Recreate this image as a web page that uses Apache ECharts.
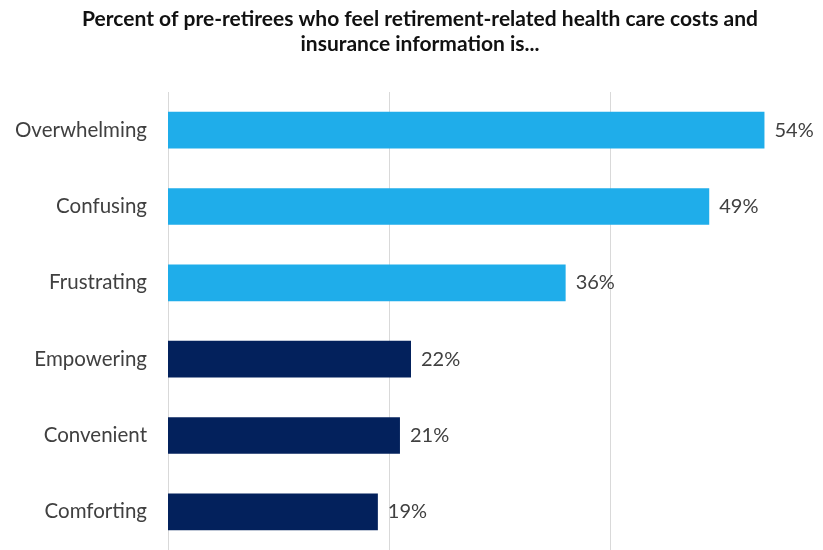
<!DOCTYPE html>
<html>
<head>
<meta charset="utf-8">
<script src="https://cdn.jsdelivr.net/npm/echarts@6/dist/echarts.min.js"></script>
<style>
html,body{margin:0;padding:0;background:#fff;}
#chart{width:823px;height:550px;}
</style>
</head>
<body>
<div id="chart"></div>
<script>
const titleText = 'Percent of pre-retirees who feel retirement-related health care costs and\ninsurance information is...';
const categories = ['Overwhelming', 'Confusing', 'Frustrating', 'Empowering', 'Convenient', 'Comforting'];
const values = [54, 49, 36, 22, 21, 19];
const groups = ['negative', 'negative', 'negative', 'positive', 'positive', 'positive'];

const groupColors = { negative: '#1fadea', positive: '#03215c' };

const chart = echarts.init(document.getElementById('chart'), null, { renderer: 'canvas' });
chart.setOption({
  backgroundColor: '#ffffff',
  animation: false,
  title: {
    text: titleText,
    left: 415,
    top: 2,
    textAlign: 'center',
    textStyle: {
      fontFamily: 'Lato',
      fontWeight: 'bold',
      fontSize: 21,
      lineHeight: 25,
      color: '#111111'
    }
  },
  grid: { left: 168, top: 92, right: 0, bottom: 0, containLabel: false },
  xAxis: {
    type: 'value',
    min: 0,
    max: 59.3,
    interval: 20,
    axisLabel: { show: false },
    axisTick: { show: false },
    axisLine: { show: false },
    splitLine: { show: true, lineStyle: { color: '#d9d9d9', width: 1 } }
  },
  yAxis: {
    type: 'category',
    inverse: true,
    data: categories,
    axisTick: { show: false },
    axisLine: { show: false },
    axisLabel: {
      margin: 21,
      fontFamily: 'Lato',
      fontSize: 20.5,
      color: '#404040'
    }
  },
  series: [{
    type: 'bar',
    barWidth: '48%',
    data: values.map((v, i) => ({ value: v, itemStyle: { color: groupColors[groups[i]] } })),
    label: {
      show: true,
      position: 'right',
      distance: 10,
      formatter: '{c}%',
      fontFamily: 'Lato',
      fontSize: 20,
      color: '#404040'
    }
  }]
});
</script>
</body>
</html>
